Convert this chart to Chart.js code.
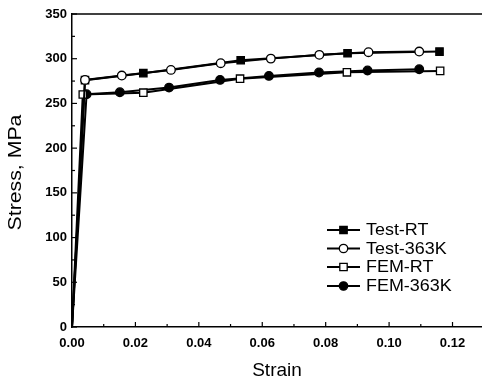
<!DOCTYPE html>
<html><head><meta charset="utf-8">
<script src="https://cdn.jsdelivr.net/npm/chart.js@4/dist/chart.umd.min.js"></script>
<style>html,body{margin:0;padding:0;background:#fff;overflow:hidden;}#wrap{width:482px;height:383px;position:relative;}canvas{display:block;}</style>
</head><body><div id="wrap"><canvas id="c" width="482" height="383"></canvas></div>
<script>
const seriesNames = ['Test-RT', 'Test-363K', 'FEM-RT', 'FEM-363K'];
const strainTestRT = [0, 0.0041, 0.0225, 0.0532, 0.0869, 0.1159];
const stressTestRT = [0, 276, 283.8, 298.3, 306.1, 308];
const strainTest363 = [0, 0.0041, 0.0157, 0.0312, 0.0469, 0.0627, 0.078, 0.0935, 0.1095];
const stressTest363 = [0, 276.3, 281.2, 287.5, 295, 300.1, 304.3, 307.3, 308];
const strainFEMRT = [0, 0.0034, 0.0225, 0.053, 0.0867, 0.1161];
const stressFEMRT = [0, 260, 262, 277.7, 284.8, 286.4];
const strainFEM363 = [0, 0.0046, 0.0151, 0.0306, 0.0467, 0.0621, 0.0779, 0.0932, 0.1095];
const stressFEM363 = [0, 260.3, 262.5, 267.7, 276.3, 280.8, 284.6, 286.9, 288.3];
const xTicks = [0, 0.02, 0.04, 0.06, 0.08, 0.10, 0.12];
const yTicks = [0, 50, 100, 150, 200, 250, 300, 350];
const xTitle = 'Strain';
const yTitle = 'Stress, MPa';

function pts(xs, ys){ return xs.map((x,i)=>({x:x, y:ys[i]})); }
function radii(xs, r){ return xs.map((x,i)=> i===0 ? 0 : r); }

const styles = [
  {pointStyle:'rect', fill:'#000', r:5.2},
  {pointStyle:'circle', fill:'#fff', r:4.3},
  {pointStyle:'rect', fill:'#fff', r:5.2},
  {pointStyle:'circle', fill:'#000', r:4.3}
];
const xsAll = [strainTestRT, strainTest363, strainFEMRT, strainFEM363];
const ysAll = [stressTestRT, stressTest363, stressFEMRT, stressFEM363];
const orders = [3, 0, 1, 2];

const datasets = seriesNames.map((n,i)=>({
  label: n,
  data: pts(xsAll[i], ysAll[i]),
  showLine: true,
  borderColor: '#000',
  borderWidth: 2,
  pointStyle: styles[i].pointStyle,
  pointRadius: radii(xsAll[i], styles[i].r),
  pointBackgroundColor: styles[i].fill,
  pointBorderColor: '#000',
  pointBorderWidth: 1.3,
  tension: 0,
  clip: false,
  order: orders[i]
}));

const decor = {
  id: 'decor',
  afterDraw(chart){
    const ctx = chart.ctx, a = chart.chartArea;
    const xs = chart.scales.x, ys = chart.scales.y;
    ctx.save();
    ctx.strokeStyle = '#000';
    ctx.lineWidth = 1.5;
    ctx.beginPath(); ctx.moveTo(a.left, a.top); ctx.lineTo(a.right, a.top); ctx.stroke();
    ctx.lineWidth = 1.2;
    for (let k = 0; k <= 12; k++) {
      const px = xs.getPixelForValue(k/100);
      const major = k % 2 === 0;
      ctx.beginPath(); ctx.moveTo(px, a.bottom); ctx.lineTo(px, a.bottom - (major ? 5 : 3)); ctx.stroke();
    }
    for (let v = 0; v <= 350; v += 25) {
      const py = ys.getPixelForValue(v);
      const major = v % 50 === 0;
      ctx.beginPath(); ctx.moveTo(a.left, py); ctx.lineTo(a.left + (major ? 5 : 3), py); ctx.stroke();
    }
    ctx.fillStyle = '#000';
    ctx.font = '19px "Liberation Sans", Arial, sans-serif';
    ctx.textAlign = 'center'; ctx.textBaseline = 'middle';
    ctx.fillText(xTitle, (a.left + a.right)/2, 371);
    ctx.save();
    ctx.translate(16, (a.top + a.bottom)/2 + 2);
    ctx.rotate(-Math.PI/2);
    ctx.scale(1.12, 1);
    ctx.fillText(yTitle, 0, 0);
    ctx.restore();
    const rows = [230, 248.5, 267, 286];
    ctx.font = '16px "Liberation Sans", Arial, sans-serif';
    ctx.textAlign = 'left';
    rows.forEach((y, i) => {
      ctx.lineWidth = 2;
      ctx.beginPath(); ctx.moveTo(327, y); ctx.lineTo(360, y); ctx.stroke();
      ctx.lineWidth = 1.3;
      ctx.fillStyle = styles[i].fill;
      ctx.beginPath();
      if (styles[i].pointStyle === 'rect') ctx.rect(343.5-3.7, y-3.7, 7.4, 7.4);
      else ctx.arc(343.5, y, 4.2, 0, Math.PI*2);
      ctx.fill(); ctx.stroke();
      ctx.fillStyle = '#000';
      ctx.save();
      ctx.translate(366, y + 1);
      ctx.scale(1.12, 1);
      ctx.fillText(seriesNames[i], 0, 0);
      ctx.restore();
    });
    ctx.restore();
  }
};

new Chart(document.getElementById('c'), {
  type: 'scatter',
  data: { datasets },
  options: {
    responsive: false,
    animation: false,
    events: [],
    layout: { autoPadding: false, padding: { top: 14, right: 0, left: 0, bottom: 0 } },
    plugins: { legend: { display: false }, tooltip: { enabled: false } },
    scales: {
      x: {
        type: 'linear', min: 0, max: 0.1293,
        grid: { display: false, drawTicks: false },
        border: { display: true, color: '#000', width: 1.5 },
        afterBuildTicks: s => { s.ticks = xTicks.map(v => ({value: v})); },
        afterFit: s => { s.height = 56; s.paddingRight = 0; s.paddingLeft = 0; },
        ticks: {
          padding: 9, color: '#000',
          font: { family: '"Liberation Sans", Arial, sans-serif', size: 13, weight: 'bold' },
          callback: v => Number(v).toFixed(2), maxRotation: 0, autoSkip: false
        }
      },
      y: {
        type: 'linear', min: 0, max: 350,
        grid: { display: false, drawTicks: false },
        border: { display: true, color: '#000', width: 1.5 },
        afterBuildTicks: s => { s.ticks = yTicks.map(v => ({value: v})); },
        afterFit: s => { s.width = 72; s.paddingTop = 0; s.paddingBottom = 0; },
        ticks: {
          padding: 5, color: '#000',
          font: { family: '"Liberation Sans", Arial, sans-serif', size: 13, weight: 'bold' },
          callback: v => String(v)
        }
      }
    }
  },
  plugins: [decor]
});
</script>
</body></html>
